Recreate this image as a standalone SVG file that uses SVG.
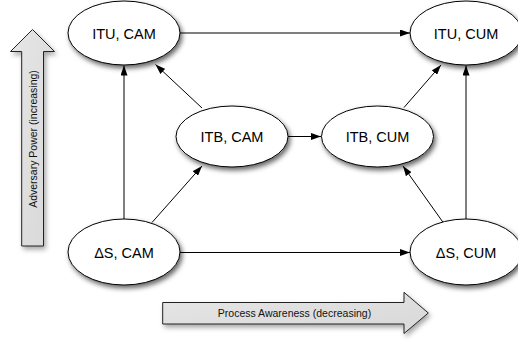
<svg xmlns="http://www.w3.org/2000/svg" width="518" height="341" viewBox="0 0 518 341">
<style>
.node ellipse{fill:#fff;stroke:#000;stroke-width:1;filter:url(#sh)}
.node text{font-family:"Liberation Sans",Arial,sans-serif;font-size:14.5px;text-anchor:middle;fill:#000}
.edge{stroke:#000;stroke-width:1;fill:none;marker-end:url(#ah)}
.big polygon{fill:url(#gr);stroke:#222;stroke-width:1;filter:url(#sh2)}
.big text{font-family:"Liberation Sans",Arial,sans-serif;font-size:10.5px;text-anchor:middle;fill:#111}
</style>
<defs>
<filter id="sh" x="-20%" y="-20%" width="150%" height="160%">
<feDropShadow dx="2" dy="3" stdDeviation="2.5" flood-color="#000" flood-opacity="0.6"/>
</filter>
<filter id="sh2" x="-20%" y="-20%" width="150%" height="160%">
<feDropShadow dx="2" dy="3" stdDeviation="2.5" flood-color="#000" flood-opacity="0.35"/>
</filter>
<linearGradient id="gr" x1="0" y1="0" x2="1" y2="1">
<stop offset="0" stop-color="#e6e6e6"/>
<stop offset="1" stop-color="#d8d8d8"/>
</linearGradient>
<marker id="ah" markerWidth="10" markerHeight="7" refX="10" refY="3.5" orient="auto" markerUnits="userSpaceOnUse">
<path d="M0,0 L10,3.5 L0,7 z" fill="#000"/>
</marker>
</defs>
<g id="adversary-arrow" class="big">
<polygon points="21.7,246 21.7,51.5 10.5,51.5 32.5,29.5 54.5,51.5 43.5,51.5 43.5,246"/>
<text transform="translate(36.5,139) rotate(-90)">Adversary Power (increasing)</text>
</g>
<g id="process-arrow" class="big">
<polygon points="162.7,302.5 404,302.5 404,292.3 428.3,313 404,333.5 404,324 162.7,324"/>
<text x="294.5" y="317">Process Awareness (decreasing)</text>
</g>
<g id="connectors">
<line class="edge" x1="180" y1="33" x2="410" y2="33"/>
<line class="edge" x1="124" y1="219" x2="124" y2="65.5"/>
<line class="edge" x1="466" y1="219" x2="466" y2="65.5"/>
<line class="edge" x1="180" y1="252.5" x2="410" y2="252.5"/>
<line class="edge" x1="288" y1="136.5" x2="321" y2="136.5"/>
<line class="edge" x1="202" y1="108" x2="155.5" y2="64.5"/>
<line class="edge" x1="404" y1="107.5" x2="441" y2="65"/>
<line class="edge" x1="152" y1="222.5" x2="202" y2="166"/>
<line class="edge" x1="443" y1="222.3" x2="403" y2="166"/>
</g>
<g id="itu-cam" class="node">
<ellipse cx="124" cy="33" rx="56" ry="32"/>
<text x="124" y="38.5">ITU, CAM</text>
</g>
<g id="itu-cum" class="node">
<ellipse cx="466" cy="33" rx="56" ry="32"/>
<text x="466" y="38.5">ITU, CUM</text>
</g>
<g id="itb-cam" class="node">
<ellipse cx="232" cy="136.5" rx="56" ry="30.5"/>
<text x="232" y="141.5">ITB, CAM</text>
</g>
<g id="itb-cum" class="node">
<ellipse cx="377.5" cy="136.5" rx="56" ry="30.5"/>
<text x="377.5" y="141.5">ITB, CUM</text>
</g>
<g id="ds-cam" class="node">
<ellipse cx="124" cy="252" rx="56" ry="33"/>
<text x="124" y="257.5">ΔS, CAM</text>
</g>
<g id="ds-cum" class="node">
<ellipse cx="466" cy="252" rx="56" ry="33"/>
<text x="466" y="257.5">ΔS, CUM</text>
</g>
</svg>
